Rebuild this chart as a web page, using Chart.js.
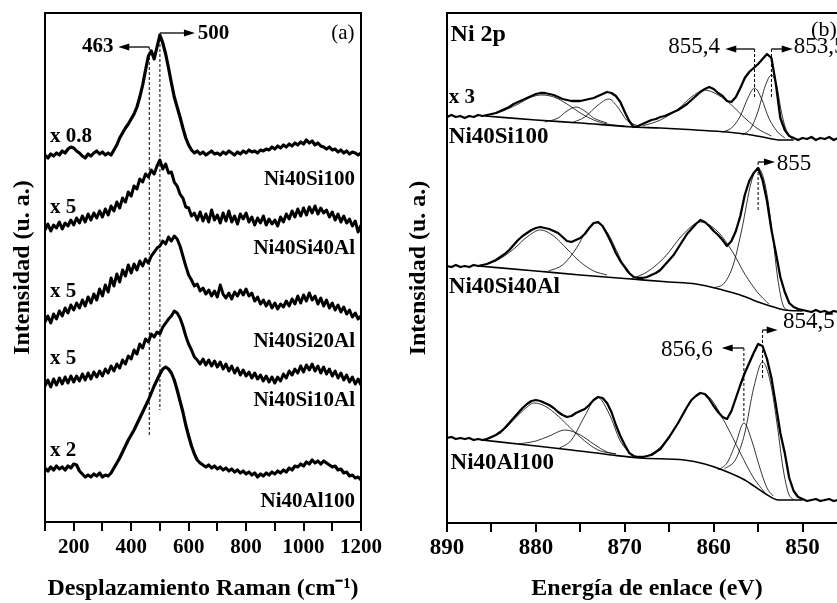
<!DOCTYPE html>
<html>
<head>
<meta charset="utf-8">
<script src="https://cdn.jsdelivr.net/npm/chart.js@4.4.1/dist/chart.umd.min.js"></script>
<style>
html, body { margin:0; padding:0; background:#fff; width:837px; height:603px; overflow:hidden; }
#wrapA { position:absolute; left:0; top:0; width:400px; height:603px; }
#wrapB { position:absolute; left:400px; top:0; width:460px; height:603px; }
</style>
</head>
<body>
<div id="wrapA"><canvas id="chartA" width="400" height="603"></canvas></div>
<div id="wrapB"><canvas id="chartB" width="460" height="603"></canvas></div>
<script>
// ---------------- Panel (a): Raman ----------------
const ramanShift = [100,110,120,130,140,150,160,170,180,190,200,210,220,230,240,250,260,270,280,290,300,310,320,330,340,350,360,370,380,390,400,410,420,430,440,450,460,470,480,490,500,510,520,530,540,550,560,570,580,590,600,610,620,630,640,650,660,670,680,690,700,710,720,730,740,750,760,770,780,790,800,810,820,830,840,850,860,870,880,890,900,910,920,930,940,950,960,970,980,990,1000,1010,1020,1030,1040,1050,1060,1070,1080,1090,1100,1110,1120,1130,1140,1150,1160,1170,1180,1190,1200];
const ramanNi40Si100 = [367,364,368,366,369,367,371,369,373,375,374,371,369,366,364,368,366,369,371,368,370,367,369,367,372,377,384,389,394,398,403,408,415,425,437,452,466,471,463,475,487,479,468,454,439,425,415,405,394,384,377,372,369,371,368,370,367,369,371,368,369,367,370,368,371,369,367,370,368,371,369,372,370,371,369,372,371,373,372,375,373,376,374,377,375,378,376,379,377,380,378,382,379,381,377,379,376,375,373,375,372,373,370,372,369,371,368,370,369,367,369];
const ramanNi40Si40Al = [292,298,291,297,294,300,293,299,296,302,297,304,299,306,300,308,302,309,304,311,305,313,307,316,311,320,314,324,320,330,326,336,333,343,340,348,345,352,348,356,362,353,358,349,350,340,336,328,324,315,314,306,309,302,310,301,308,300,312,302,307,299,309,301,311,300,306,298,308,303,309,300,305,297,304,299,306,297,303,298,302,296,305,300,308,303,311,305,313,306,314,307,315,309,316,308,314,309,312,305,310,302,308,300,306,299,303,296,301,290,297];
const ramanNi40Si20Al = [200,206,199,208,203,211,206,214,209,217,212,219,214,222,216,225,219,228,222,233,226,237,230,244,236,248,240,252,246,257,249,258,252,261,256,263,259,266,270,274,276,281,278,285,281,286,283,276,266,256,247,242,236,238,231,234,228,232,226,231,225,237,228,224,229,223,230,226,232,227,233,226,229,221,225,218,222,216,221,214,219,213,218,215,221,216,223,218,226,219,227,221,229,222,226,218,224,216,222,214,219,212,217,210,215,208,212,205,209,203,206];
const ramanNi40Si10Al = [136,142,135,143,137,144,138,145,139,146,140,146,141,148,142,149,143,150,145,151,146,153,149,156,151,158,154,162,158,166,163,172,168,178,174,183,180,188,185,190,188,195,199,203,206,211,209,204,196,186,178,172,165,162,158,163,157,162,156,161,155,160,153,158,151,156,149,154,147,152,146,150,144,149,143,147,141,146,140,145,139,145,141,148,144,151,147,153,149,156,150,157,152,158,151,156,149,155,148,153,146,151,144,149,142,147,140,145,138,143,137];
const ramanNi40Al100 = [54,51,55,52,56,53,55,52,56,54,58,57,51,48,45,47,45,48,46,49,45,47,46,49,54,59,64,70,76,82,87,92,98,104,110,116,122,129,136,142,148,153,155,153,149,142,132,121,110,97,86,76,68,62,59,57,55,57,54,56,53,55,52,54,51,53,50,52,49,51,48,50,47,49,45,48,46,49,47,50,48,51,49,52,50,54,52,56,55,58,56,60,58,62,59,61,58,61,59,57,55,56,52,53,49,50,46,47,44,45,42];
const ramanTickLabels = [200,400,600,800,1000,1200];
const ramanMarkers = [463, 500];

// ---------------- Panel (b): XPS Ni 2p ----------------
const bindingEnergy = [846,846.5,847,847.5,848,848.5,849,849.5,850,850.5,851,851.5,852,852.5,853,853.5,854,854.5,855,855.5,856,856.5,857,857.5,858,858.5,859,859.5,860,860.5,861,861.5,862,862.5,863,863.5,864,864.5,865,865.5,866,866.5,867,867.5,868,868.5,869,869.5,870,870.5,871,871.5,872,872.5,873,873.5,874,874.5,875,875.5,876,876.5,877,877.5,878,878.5,879,879.5,880,880.5,881,881.5,882,882.5,883,883.5,884,884.5,885,885.5,886,886.5,887,887.5,888,888.5,889,889.5,890];
const xpsNi40Si100 = [385,383,386,384,385,383,386,384,385,383,385,387,393,405,439,465,469,464,459,455,451,445,435,426,421,422,427,430,434,436,434,431,427,423,419,416,413,411,409,407,406,404,403,401,399,397,396,402,411,421,427,430,431,429,427,425,424,423,422,422,422,423,424,426,428,429,430,430,429,427,425,423,421,419,416,414,412,410,409,408,407,408,406,407,405,407,406,408,406];
const xpsNi40Si40Al = [211,212,210,212,211,213,211,212,213,214,216,220,231,246,270,293,322,343,355,350,342,328,307,292,282,277,283,288,292,297,301,303,299,294,289,282,275,268,263,258,253,250,248,246,245,245,246,250,256,262,270,280,289,297,301,300,295,289,285,283,281,282,286,290,292,294,295,296,295,293,290,287,283,278,273,269,266,263,261,259,258,257,258,256,257,256,258,256,257];
const xpsNi40Al100 = [23,22,24,23,22,24,23,22,24,26,32,45,70,90,118,145,164,177,179,170,160,150,138,125,112,104,106,111,117,124,129,130,127,123,116,108,100,93,86,80,74,71,68,67,66,66,67,70,78,87,98,111,120,125,126,123,118,114,112,110,107,106,108,111,115,118,120,122,123,122,119,115,110,105,100,95,91,88,86,84,83,84,83,85,84,85,84,86,85];

// Shirley-type backgrounds [eV, intensity]
const bgNi40Si100 = [[851,383],[852.5,383],[854.5,386],[856.5,389],[858.5,391],[862,393],[866,395],[869,396],[875,400],[880,403],[885.7,407]];
const bgNi40Si40Al = [[850,212],[852,213],[854,218],[855,221],[857,228],[859,233],[862,239],[865,241],[869.3,244],[875,248],[880,252],[886.5,257]];
const bgNi40Al100 = [[850,23],[852.7,23],[854.3,30],[856.5,43],[859,53],[861,59],[863.3,63],[868.3,65],[871.5,68],[876,73],[881,78],[886.1,83]];

// fitted components [eV, intensity]
const fitNi40Si100 = [
  [[870,397],[872,399],[873.5,403],[875,410],[876.5,419],[878,426],[879.3,428],[880.5,426],[882,419],[884,411],[886,407]],
  [[872,400],[873.5,405],[874.5,412],[875.5,416],[876.5,412],[877.5,405],[879,401]],
  [[868.5,397],[869.8,403],[870.8,416],[871.8,424],[873,418],[874.5,406],[876,400]],
  [[853.5,387],[855,394],[856.5,405],[858,418],[859.5,428],[861,433],[862.5,426],[864,414],[866,403],[868,397]],
  [[852,385],[852.8,391],[853.8,405],[854.6,424],[855.4,435],[856.2,424],[857,407],[858,395],[859,391]],
  [[851.2,384],[851.8,392],[852.4,412],[852.9,437],[853.5,448],[854.2,437],[855,412],[855.8,395],[856.8,388]]
];
const fitNi40Si40Al = [
  [[872,248],[873.5,252],[875,261],[876.5,274],[878,287],[879.5,293],[881,286],[882.5,274],[884.5,262],[886.5,257]],
  [[868.8,245],[869.8,252],[870.8,270],[872,291],[873.2,300],[874.3,292],[875.5,274],[877,258],[878.6,252]],
  [[853.8,219],[855,230],[856.5,249],[857.8,270],[859.5,291],[861.5,301],[863.5,288],[865.5,266],[867.5,251],[869.3,244]],
  [[851.5,212],[852.2,218],[852.8,245],[853.4,290],[854.2,338],[855,355],[855.8,340],[856.8,295],[857.8,258],[858.8,240],[860,235]]
];
const fitNi40Al100 = [
  [[871,69],[873,73],[874.5,82],[876,94],[877.5,107],[879,117],[880.2,120],[881,116],[882.3,105],[884,90],[886,83]],
  [[871,69],[872,71],[873.5,79],[875,88],[876.7,93],[878.5,87],[880,82],[882,79]],
  [[869.3,68],[870.5,82],[871.8,110],[873.1,126],[874.5,107],[876,83],[877.5,74]],
  [[854.3,31],[855.5,45],[857,70],[858.7,100],[860.5,126],[861.5,130],[862.3,125],[863.5,108],[865,86],[866.5,72],[868,65]],
  [[853.3,27],[854,35],[854.8,55],[855.7,82],[856.6,100],[857.5,80],[858.5,60],[859.5,53]],
  [[851,23],[851.6,30],[852.2,55],[852.8,95],[853.6,140],[854.5,161],[855.5,135],[856.5,90],[857.5,64],[858.8,54]]
];
const energyTickLabels = [890,880,870,860,850];

// ---------------- helpers ----------------
const SERIF = '"Liberation Serif", "Times New Roman", serif';
const pts = (xs, ys) => xs.map((x, i) => ({x: x, y: ys[i]}));
const pairs = arr => arr.map(p => ({x: p[0], y: p[1]}));

function dataLine(data, w) {
  return {data: data, borderColor: '#000', borderWidth: w, pointRadius: 0, fill: false, tension: 0, borderJoinStyle: 'round'};
}
function smoothLine(data, w) {
  return {data: data, borderColor: '#000', borderWidth: w, pointRadius: 0, fill: false, cubicInterpolationMode: 'monotone'};
}
function dashLine(x, y1, y2) {
  return {data: [{x: x, y: y1}, {x: x, y: y2}], borderColor: '#000', borderWidth: 1, borderDash: [3, 2], pointRadius: 0, fill: false};
}

function makeDecor(texts, arrows, fullFrame) {
  return {
    id: 'decor',
    afterDatasetsDraw(chart) {
      const {ctx, chartArea, scales} = chart;
      const xs = scales.x, ys = scales.y;
      ctx.save();
      ctx.strokeStyle = '#000';
      ctx.lineWidth = 2;
      ctx.beginPath();
      ctx.moveTo(chartArea.left, chartArea.top);
      ctx.lineTo(chartArea.right, chartArea.top);
      if (fullFrame) ctx.lineTo(chartArea.right, chartArea.bottom);
      ctx.stroke();
      ctx.fillStyle = '#000';
      ctx.textBaseline = 'middle';
      for (const t of texts) {
        ctx.font = (t.bold ? 'bold ' : '') + t.size + 'px ' + SERIF;
        ctx.textAlign = t.align;
        ctx.fillText(t.text, xs.getPixelForValue(t.x), ys.getPixelForValue(t.y));
      }
      ctx.lineWidth = 1.3;
      for (const a of arrows) {
        const x1 = xs.getPixelForValue(a.x1), x2 = xs.getPixelForValue(a.x2), y = ys.getPixelForValue(a.y);
        const dir = Math.sign(x2 - x1);
        ctx.beginPath();
        ctx.moveTo(x1, y);
        ctx.lineTo(x2 - dir * 8, y);
        ctx.stroke();
        ctx.beginPath();
        ctx.moveTo(x2, y);
        ctx.lineTo(x2 - dir * 11, y - 3.5);
        ctx.lineTo(x2 - dir * 11, y + 3.5);
        ctx.closePath();
        ctx.fill();
      }
      ctx.restore();
    }
  };
}

// ---------------- Chart A ----------------
const textsA = [
  {text: '463', x: 284, y: 475, align: 'center', bold: true, size: 21},
  {text: '500', x: 632, y: 488, align: 'left', bold: true, size: 21},
  {text: '(a)', x: 1137, y: 489, align: 'center', bold: false, size: 21},
  {text: 'x 0.8', x: 117, y: 385, align: 'left', bold: true, size: 21},
  {text: 'Ni40Si100', x: 1179, y: 342, align: 'right', bold: true, size: 21},
  {text: 'x 5', x: 117, y: 314, align: 'left', bold: true, size: 21},
  {text: 'Ni40Si40Al', x: 1179, y: 273, align: 'right', bold: true, size: 21},
  {text: 'x 5', x: 117, y: 230, align: 'left', bold: true, size: 21},
  {text: 'Ni40Si20Al', x: 1179, y: 180, align: 'right', bold: true, size: 21},
  {text: 'x 5', x: 117, y: 163, align: 'left', bold: true, size: 21},
  {text: 'Ni40Si10Al', x: 1179, y: 121, align: 'right', bold: true, size: 21},
  {text: 'x 2', x: 117, y: 71, align: 'left', bold: true, size: 21},
  {text: 'Ni40Al100', x: 1179, y: 20, align: 'right', bold: true, size: 21}
];
const arrowsA = [
  {x1: 463, x2: 355, y: 475},
  {x1: 500, x2: 622, y: 489}
];

new Chart(document.getElementById('chartA'), {
  type: 'line',
  data: {
    datasets: [
      dataLine(pts(ramanShift, ramanNi40Si100), 3.2),
      dataLine(pts(ramanShift, ramanNi40Si40Al), 3),
      dataLine(pts(ramanShift, ramanNi40Si20Al), 3),
      dataLine(pts(ramanShift, ramanNi40Si10Al), 3),
      dataLine(pts(ramanShift, ramanNi40Al100), 3.2),
      dashLine(ramanMarkers[0], 475, 85),
      dashLine(ramanMarkers[1], 488, 112)
    ]
  },
  options: {
    responsive: false,
    animation: false,
    devicePixelRatio: 1,
    layout: {padding: {left: 0, right: 39, top: 13, bottom: 0}},
    plugins: {legend: {display: false}, tooltip: {enabled: false}},
    scales: {
      x: {
        type: 'linear', min: 100, max: 1200,
        afterFit: s => { s.height = 81; },
        ticks: {
          stepSize: 100, autoSkip: false, maxRotation: 0, padding: 4, color: '#000',
          font: {family: SERIF, weight: 'bold', size: 21},
          callback: v => ramanTickLabels.includes(v) ? String(v) : ''
        },
        grid: {display: true, drawOnChartArea: false, drawTicks: true, tickLength: 9, color: '#000', lineWidth: 2},
        border: {display: true, color: '#000', width: 2},
        title: {display: true, text: 'Desplazamiento Raman (cm\u207B\u00B9)', color: '#000', font: {family: SERIF, weight: 'bold', size: 24}, padding: {top: 0, bottom: 0}}
      },
      y: {
        type: 'linear', min: 0, max: 509,
        afterFit: s => { s.width = 45; },
        ticks: {display: false},
        grid: {display: false, drawTicks: false},
        border: {display: true, color: '#000', width: 2},
        title: {display: true, text: 'Intensidad (u. a.)', color: '#000', font: {family: SERIF, weight: 'bold', size: 24}, padding: {top: 8, bottom: 0}}
      }
    }
  },
  plugins: [makeDecor(textsA, arrowsA, true)]
});

// ---------------- Chart B ----------------
const textsB = [
  {text: 'Ni 2p', x: 889.6, y: 488, align: 'left', bold: true, size: 24},
  {text: '(b)', x: 847.6, y: 493, align: 'center', bold: false, size: 22},
  {text: '855,4', x: 859.3, y: 476, align: 'right', bold: false, size: 23},
  {text: '853,5', x: 851.0, y: 476, align: 'left', bold: false, size: 23},
  {text: '855', x: 852.9, y: 359, align: 'left', bold: false, size: 23},
  {text: '854,5', x: 852.2, y: 201, align: 'left', bold: false, size: 23},
  {text: '856,6', x: 860.1, y: 173, align: 'right', bold: false, size: 23},
  {text: 'x 3', x: 889.8, y: 425, align: 'left', bold: true, size: 21},
  {text: 'Ni40Si100', x: 889.8, y: 386, align: 'left', bold: true, size: 23},
  {text: 'Ni40Si40Al', x: 889.8, y: 236, align: 'left', bold: true, size: 23},
  {text: 'Ni40Al100', x: 889.6, y: 60, align: 'left', bold: true, size: 23}
];
const arrowsB = [
  {x1: 855.4, x2: 858.7, y: 474},
  {x1: 853.5, x2: 851.1, y: 474},
  {x1: 855.0, x2: 853.1, y: 361},
  {x1: 854.5, x2: 852.8, y: 193},
  {x1: 856.6, x2: 859.1, y: 175}
];

const dsB = [
  dataLine(pts(bindingEnergy, xpsNi40Si100), 2.3),
  dataLine(pts(bindingEnergy, xpsNi40Si40Al), 2.3),
  dataLine(pts(bindingEnergy, xpsNi40Al100), 2.3),
  smoothLine(pairs(bgNi40Si100), 1.6),
  smoothLine(pairs(bgNi40Si40Al), 1.6),
  smoothLine(pairs(bgNi40Al100), 1.6)
];
for (const c of fitNi40Si100.concat(fitNi40Si40Al, fitNi40Al100)) dsB.push(smoothLine(pairs(c), 0.8));
dsB.push(dashLine(855.4, 474, 425), dashLine(853.5, 474, 425), dashLine(855.0, 361, 313), dashLine(854.5, 193, 143), dashLine(856.6, 175, 100));

new Chart(document.getElementById('chartB'), {
  type: 'line',
  data: {datasets: dsB},
  options: {
    responsive: false,
    animation: false,
    devicePixelRatio: 1,
    layout: {padding: {left: 0, right: 13, top: 13, bottom: 0}},
    plugins: {legend: {display: false}, tooltip: {enabled: false}},
    scales: {
      x: {
        type: 'linear', min: 845, max: 890, reverse: true,
        afterFit: s => { s.height = 80; },
        ticks: {
          stepSize: 5, autoSkip: false, maxRotation: 0, padding: 2, color: '#000',
          font: {family: SERIF, weight: 'bold', size: 23},
          callback: v => energyTickLabels.includes(v) ? String(v) : ''
        },
        grid: {display: true, drawOnChartArea: false, drawTicks: true, tickLength: 9, color: '#000', lineWidth: 2},
        border: {display: true, color: '#000', width: 2},
        title: {display: true, text: 'Energía de enlace (eV)', color: '#000', font: {family: SERIF, weight: 'bold', size: 24}, padding: {top: 0, bottom: 0}}
      },
      y: {
        type: 'linear', min: 0, max: 510,
        afterFit: s => { s.width = 47; },
        ticks: {display: false},
        grid: {display: false, drawTicks: false},
        border: {display: true, color: '#000', width: 2},
        title: {display: true, text: 'Intensidad (u. a.)', color: '#000', font: {family: SERIF, weight: 'bold', size: 24}, padding: {top: 4, bottom: 0}}
      }
    }
  },
  plugins: [makeDecor(textsB, arrowsB, true)]
});
</script>
</body>
</html>
